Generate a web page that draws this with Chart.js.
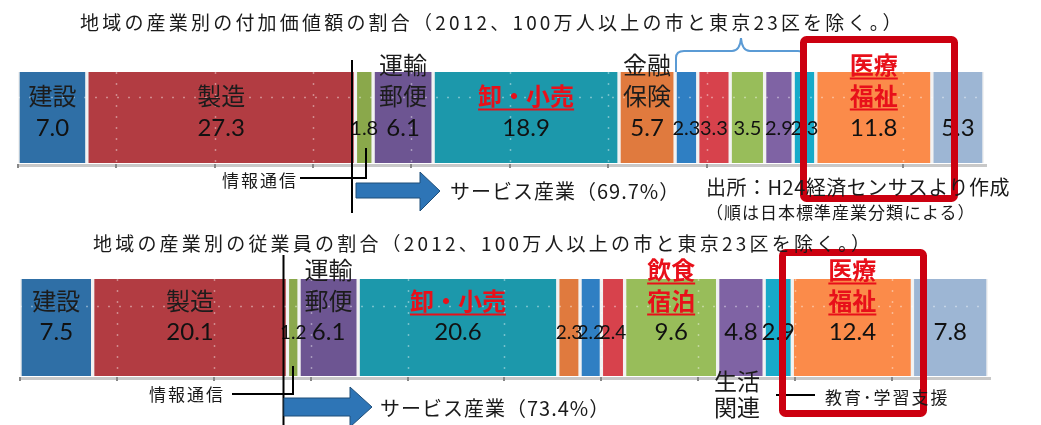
<!DOCTYPE html>
<html lang="ja">
<head>
<meta charset="utf-8">
<script src="https://cdn.jsdelivr.net/npm/chart.js@4.4.1/dist/chart.umd.min.js"></script>
<style>
  html, body { margin: 0; padding: 0; background: #fff; }
  #stage { position: relative; width: 1041px; height: 425px; overflow: hidden;
           font-family: "Noto Sans CJK JP", sans-serif; color: #1a1a1a; }
  #topWrap { position: absolute; left: 0; top: 0; width: 1041px; height: 200px; }
  #bottomWrap { position: absolute; left: 0; top: 220px; width: 1041px; height: 205px; }
  .txt { position: absolute; white-space: nowrap; line-height: 1; transform: translateY(-50%); }
  svg { position: absolute; left: 0; top: 0; }
</style>
</head>
<body>
<div id="stage">
  <div id="topWrap"><canvas id="addedValueChart" width="1041" height="200"></canvas></div>
  <div id="bottomWrap"><canvas id="employeeChart" width="1041" height="205"></canvas></div>

  <svg width="1041" height="425" viewBox="0 0 1041 425">
    <!-- 上段 -->
    <line x1="352" y1="60" x2="352" y2="213" stroke="#000" stroke-width="2"/>
    <polyline points="300,178 366,178 366,148" fill="none" stroke="#000" stroke-width="2"/>
    <polygon points="356,183 420,183 420,172 440,191 420,211 420,198 356,198" fill="#2e75b6" stroke="#1f4e79" stroke-width="1"/>
    <path d="M676,72 L676,58 Q676,51 684,51 L732,51 Q740,51 741,38 Q742,51 750,51 L798,51 Q806,51 806,58 L806,72" fill="none" stroke="#5b9bd5" stroke-width="2"/>
    <rect x="803.5" y="39.5" width="151" height="159" rx="3" fill="none" stroke="#cc0010" stroke-width="7"/>
    <!-- 下段 -->
    <line x1="283.5" y1="255" x2="283.5" y2="425" stroke="#000" stroke-width="2"/>
    <polyline points="232,394 293,394 293,366" fill="none" stroke="#000" stroke-width="2"/>
    <polygon points="284,398 350,398 350,387 372,407 350,427 350,416 284,416" fill="#2e75b6" stroke="#1f4e79" stroke-width="1"/>
    <line x1="776" y1="395" x2="815" y2="395" stroke="#000" stroke-width="2"/>
    <rect x="782.5" y="252.5" width="141" height="161" rx="3" fill="none" stroke="#cc0010" stroke-width="7"/>
  </svg>

  <div class="txt" style="left:80px;top:21px;font-size:19px;letter-spacing:3.2px">地域の産業別の付加価値額の割合（2012、100万人以上の市と東京23区を除く。）</div>
  <div class="txt" style="left:222px;top:179px;font-size:17px;letter-spacing:2px">情報通信</div>
  <div class="txt" style="left:450px;top:191px;font-size:20px;letter-spacing:1px">サービス産業（69.7%）</div>
  <div class="txt" style="left:706px;top:187px;font-size:20px;letter-spacing:0.5px">出所：H24経済センサスより作成</div>
  <div class="txt" style="left:706px;top:211px;font-size:17px;letter-spacing:1px">（順は日本標準産業分類による）</div>

  <div class="txt" style="left:93px;top:242px;font-size:19px;letter-spacing:3.2px">地域の産業別の従業員の割合（2012、100万人以上の市と東京23区を除く。）</div>
  <div class="txt" style="left:149px;top:393px;font-size:17px;letter-spacing:2px">情報通信</div>
  <div class="txt" style="left:380px;top:408px;font-size:20px;letter-spacing:1px">サービス産業（73.4%）</div>
  <div class="txt" style="left:714px;top:380px;font-size:23px">生活</div>
  <div class="txt" style="left:714px;top:406px;font-size:23px">関連</div>
  <div class="txt" style="left:825px;top:396px;font-size:17px;letter-spacing:2px">教育･学習支援</div>
</div>

<script>
// 産業（日本標準産業分類の順）
const industries = ['建設', '製造', '情報通信', '運輸・郵便', '卸・小売', '金融・保険',
  '不動産・物品賃貸', '学術研究・専門技術', '飲食・宿泊', '生活関連', '教育・学習支援',
  '医療・福祉', 'その他サービス'];

// 付加価値額の割合（%）
const addedValueShare = [7.0, 27.3, 1.8, 6.1, 18.9, 5.7, 2.3, 3.3, 3.5, 2.9, 2.3, 11.8, 5.3];
// 従業員の割合（%）
const employeeShare = [7.5, 20.1, 1.2, 6.1, 20.6, 2.3, 2.2, 2.4, 9.6, 4.8, 2.9, 12.4, 7.8];

// 棒の中に書く名前
const topBarLabels = ['建設', '製造', '', '運輸\n郵便', '卸・小売', '金融\n保険', '', '', '', '', '', '医療\n福祉', ''];
const bottomBarLabels = ['建設', '製造', '', '運輸\n郵便', '卸・小売', '', '', '', '飲食\n宿泊', '', '', '医療\n福祉', ''];
const highlighted = ['卸・小売', '飲食\n宿泊', '医療\n福祉'];

// 色（Excel風）
const colors = ['#2f6fa6', '#b23c42', '#8aa84b', '#6d5592', '#1c98ab', '#e07a3e',
  '#2f7fc3', '#d7424c', '#98bd5a', '#7f63a4', '#17aac9', '#fb8b4a', '#9db6d4'];

const total = arr => arr.reduce((a, b) => a + b, 0);

// 値と名前、点線と軸線を描くプラグイン
const barText = {
  id: 'barText',
  afterDatasetsDraw(chart, args, opts) {
    const ctx = chart.ctx;
    const area = chart.chartArea;
    const xs = chart.scales.x;
    ctx.save();

    // 点線（うすい白）
    ctx.strokeStyle = 'rgba(255,255,255,0.4)';
    ctx.lineWidth = 1.5;
    ctx.setLineDash([2, 9]);
    for (let v = 10; v < xs.max; v += 10) {
      const x = Math.round(xs.getPixelForValue(v)) + 0.5;
      ctx.beginPath(); ctx.moveTo(x, area.top); ctx.lineTo(x, area.bottom); ctx.stroke();
    }
    const hy = Math.round(area.top + (area.bottom - area.top) * 0.28) + 0.5;
    ctx.beginPath(); ctx.moveTo(area.left, hy); ctx.lineTo(area.right, hy); ctx.stroke();
    ctx.setLineDash([]);

    // 軸線
    ctx.fillStyle = '#c8c8c8';
    ctx.fillRect(area.left - 1, area.bottom + 1, area.right - area.left + 4, 3);
    ctx.fillStyle = '#888';
    for (let v = 0; v <= xs.max; v += 10) {
      ctx.fillRect(Math.round(xs.getPixelForValue(v)) - 1, area.bottom + 1, 2, 4);
    }

    ctx.textAlign = 'center';
    ctx.textBaseline = 'middle';
    chart.data.datasets.forEach((ds, i) => {
      const bar = chart.getDatasetMeta(i).data[0];
      const cx = (bar.x + bar.base) / 2;
      const v = ds.data[0];
      const small = v < opts.smallBelow;
      ctx.font = (small ? opts.smallFont : 24) + 'px Lato, "Noto Sans", sans-serif';
      ctx.fillStyle = '#111';
      ctx.fillText(v.toFixed(1), cx, bar.y + opts.valueDy);

      const name = opts.names[i];
      if (!name) return;
      const hot = highlighted.includes(name);
      const lines = name.split('\n');
      ctx.font = (hot ? 'bold ' : '') + '24px "Noto Sans CJK JP", sans-serif';
      ctx.fillStyle = hot ? '#e8101a' : '#1c1c1c';
      lines.forEach((ln, k) => {
        const y = bar.y + opts.nameDy - (lines.length - 1 - k) * opts.lineGap;
        ctx.fillText(ln, cx, y);
        if (hot) {
          const w = ctx.measureText(ln).width;
          ctx.fillRect(cx - w / 2, y + 13, w, 2);
        }
      });
    });
    ctx.restore();
  }
};

function makeChart(id, values, names, padding, textOpts) {
  return new Chart(document.getElementById(id), {
    type: 'bar',
    data: {
      labels: [''],
      datasets: values.map((v, i) => ({
        label: industries[i],
        data: [v],
        backgroundColor: colors[i],
        borderColor: '#f2f2f2',
        borderWidth: { left: 2, right: 2, top: 0, bottom: 0 },
        borderSkipped: false,
        barPercentage: 1,
        categoryPercentage: 1
      }))
    },
    options: {
      indexAxis: 'y',
      responsive: false,
      animation: false,
      layout: { padding: padding },
      plugins: {
        legend: { display: false },
        tooltip: { enabled: false },
        barText: Object.assign({ names: names }, textOpts)
      },
      scales: {
        x: { stacked: true, min: 0, max: total(values), display: false },
        y: { stacked: true, display: false }
      }
    },
    plugins: [barText]
  });
}

// 上段：付加価値額
makeChart('addedValueChart', addedValueShare, topBarLabels,
  { left: 18, right: 57, top: 72, bottom: 37 },
  { valueDy: 11, nameDy: -22, lineGap: 31, smallBelow: 4, smallFont: 20 });

// 下段：従業員
makeChart('employeeChart', employeeShare, bottomBarLabels,
  { left: 20, right: 53, top: 59, bottom: 49 },
  { valueDy: 5, nameDy: -27, lineGap: 31, smallBelow: 2.5, smallFont: 19 });
</script>
</body>
</html>
